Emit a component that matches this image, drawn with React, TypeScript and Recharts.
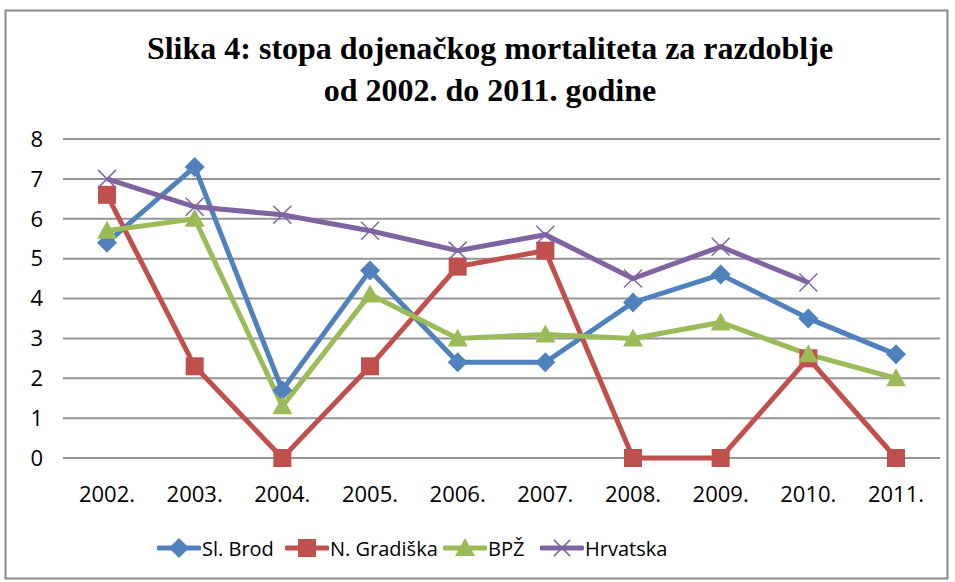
import React from 'react';
import { LineChart, Line, XAxis, YAxis, CartesianGrid } from 'recharts';

const years = ['2002.', '2003.', '2004.', '2005.', '2006.', '2007.', '2008.', '2009.', '2010.', '2011.'];
const slBrod = [5.4, 7.3, 1.7, 4.7, 2.4, 2.4, 3.9, 4.6, 3.5, 2.6];
const nGradiska = [6.6, 2.3, 0, 2.3, 4.8, 5.2, 0, 0, 2.5, 0];
const bpz = [5.7, 6.0, 1.3, 4.1, 3.0, 3.1, 3.0, 3.4, 2.6, 2.0];
const hrvatska: (number | null)[] = [7.0, 6.3, 6.1, 5.7, 5.2, 5.6, 4.5, 5.3, 4.4, null];
const yTicks = [0, 1, 2, 3, 4, 5, 6, 7, 8];

const data = years.map((y, i) => ({
  year: y,
  slBrod: slBrod[i],
  nGradiska: nGradiska[i],
  bpz: bpz[i],
  hrvatska: hrvatska[i],
}));

const series = [
  { key: 'slBrod', name: 'Sl. Brod', color: '#4F81BD', shape: 'diamond', left: 157 },
  { key: 'nGradiska', name: 'N. Gradiška', color: '#C0504D', shape: 'square', left: 285 },
  { key: 'bpz', name: 'BPŽ', color: '#9BBB59', shape: 'triangle', left: 443 },
  { key: 'hrvatska', name: 'Hrvatska', color: '#8064A2', shape: 'cross', left: 540 },
];

const Marker = ({ shape, color, cx, cy, s = 1 }: any) => {
  if (cx == null || cy == null) return null;
  if (shape === 'diamond')
    return <polygon points={`${cx},${cy - 10 * s} ${cx + 10 * s},${cy} ${cx},${cy + 10 * s} ${cx - 10 * s},${cy}`} fill={color} />;
  if (shape === 'square')
    return <rect x={cx - 9 * s} y={cy - 9 * s} width={18 * s} height={18 * s} fill={color} />;
  if (shape === 'triangle')
    return <polygon points={`${cx},${cy - 10 * s} ${cx + 10 * s},${cy + 8 * s} ${cx - 10 * s},${cy + 8 * s}`} fill={color} />;
  return (
    <g stroke={color} strokeWidth={1.5}>
      <line x1={cx - 9 * s} y1={cy - 9 * s} x2={cx + 9 * s} y2={cy + 9 * s} />
      <line x1={cx - 9 * s} y1={cy + 9 * s} x2={cx + 9 * s} y2={cy - 9 * s} />
    </g>
  );
};

const font = '"Open Sans", sans-serif';

export default function App() {
  return (
    <div style={{ position: 'absolute', left: 0, top: 0, width: 955, height: 582, background: '#fff' }}>
      <div style={{ position: 'absolute', left: 0, top: 27, width: 980, textAlign: 'center', fontFamily: '"Liberation Serif", serif', fontWeight: 'bold', fontSize: 32, lineHeight: '42px', color: '#000' }}>
        Slika 4: stopa dojenačkog mortaliteta za razdoblje<br />od 2002. do 2011. godine
      </div>
      <div style={{ position: 'absolute', left: 0, top: 0 }}>
        <LineChart width={955} height={582} data={data} margin={{ top: 139, right: 15, left: 0, bottom: 0 }}>
          <CartesianGrid vertical={false} stroke="#959595" strokeWidth={2} />
          <XAxis dataKey="year" height={124} axisLine={false} tickLine={false} tickMargin={22}
            padding={{ left: 44, right: 44 }}
            tick={{ fontSize: 22, fill: '#000', fontFamily: font }} interval={0} />
          <YAxis width={63} domain={[0, 8]} ticks={yTicks} axisLine={false} tickLine={false} tickMargin={14}
            tick={{ fontSize: 22, fill: '#000', fontFamily: font }} interval={0} />
          {series.map((s) => (
            <Line key={s.key} dataKey={s.key} name={s.name} stroke={s.color} strokeWidth={5}
              isAnimationActive={false} dot={(p: any) => <Marker key={p.index} shape={s.shape} color={s.color} cx={p.cx} cy={p.cy} />}
              activeDot={false} />
          ))}
        </LineChart>
      </div>
      {series.map((s) => (
        <div key={s.key} style={{ position: 'absolute', top: 533, left: s.left, display: 'flex', alignItems: 'center', fontFamily: font, fontSize: 20, color: '#000' }}>
          <svg width={44} height={30}>
            <line x1={2} y1={15} x2={42} y2={15} stroke={s.color} strokeWidth={5} strokeLinecap="round" />
            <Marker shape={s.shape} color={s.color} cx={22} cy={15} s={s.shape === 'cross' ? 0.9 : 1} />
          </svg>
          <span style={{ marginLeft: 1 }}>{s.name}</span>
        </div>
      ))}
      <svg width={955} height={582} style={{ position: 'absolute', left: 0, top: 0, pointerEvents: 'none' }}>
        <rect x={5.5} y={10.5} width={942} height={568} fill="none" stroke="#8a8a8a" strokeWidth={2} />
      </svg>
    </div>
  );
}
